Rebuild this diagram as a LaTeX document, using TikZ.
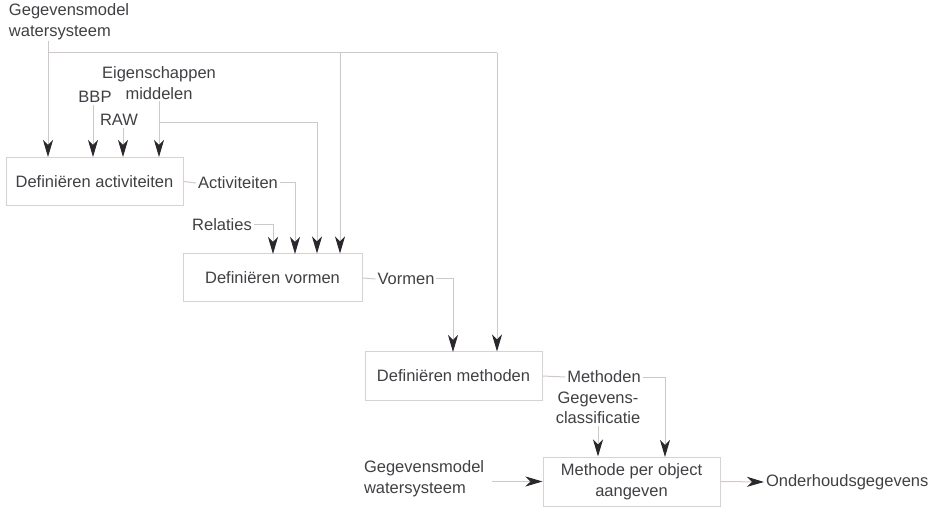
\documentclass[tikz,border=0pt]{standalone}
\usepackage{fontspec}
\setmainfont{Liberation Sans}
\usetikzlibrary{arrows.meta}
\definecolor{wire}{RGB}{212,198,198}
\definecolor{frame}{RGB}{220,208,208}
\definecolor{ink}{RGB}{66,63,68}
\definecolor{tipc}{RGB}{42,39,45}
\begin{document}
\begin{tikzpicture}[x=1pt,y=-1pt,
  every node/.style={font=\fontsize{16.5}{20.5}\selectfont, text=ink, inner sep=0pt},
  lbl/.style={outer sep=2pt},
  proc/.style={draw=frame, line width=1pt, minimum width=177pt, minimum height=48pt},
  wireline/.style={draw=wire, line width=1pt},
  feed/.style={wireline, -{Stealth[length=17pt,width=10pt,inset=5pt,color=tipc]}}]
\useasboundingbox (0,0) rectangle (934,510);

% process boxes
\node[proc] (act)  at (94.5,181.5) {Definiëren activiteiten};
\node[proc, minimum width=179pt] (vorm) at (272.5,278) {Definiëren vormen};
\node[proc] (meth) at (453.5,376) {Definiëren methoden};
\node[proc, minimum height=49pt, align=center] (obj) at (631.5,481.5) {Methode per object\\aangeven};

% data labels
\node[lbl, anchor=west, align=left] (gm1) at (7,21.5) {Gegevensmodel\\watersysteem};
\node[lbl, align=center] (eig) at (159,83) {Eigenschappen\\middelen};
\node[lbl] (bbp) at (95,97) {BBP};
\node[lbl] (raw) at (119,120) {RAW};
\node[lbl] (actout) at (238,183) {Activiteiten};
\node[lbl] (rel) at (222,225) {Relaties};
\node[lbl] (vormout) at (406,279) {Vormen};
\node[lbl] (methout) at (604,377) {Methoden};
\node[lbl, align=center] (gclass) at (598,408) {Gegevens-\\classificatie};
\node[lbl, anchor=west, align=left] (gm2) at (362,478.5) {Gegevensmodel\\watersysteem};
\node[lbl, anchor=west] (onder) at (764,482) {Onderhoudsgegevens};

% junctions and bends
\coordinate (bus)   at (48,53);
\coordinate (busv)  at (340,53);
\coordinate (busm)  at (497,53);
\coordinate (eigtap) at (159,123);
\coordinate (eigbend) at (317,123);
\coordinate (actdrop) at (295,254);
\coordinate (reldrop) at (273,254);
\coordinate (vormdrop) at (453,352);
\coordinate (methdrop) at (665,457);
\coordinate (gm2tail) at (492,481.5);

% water system data model feeds three steps
\draw[feed] (gm1.south -| bus) -- (bus |- act.north);
\draw[wireline] (bus) -- (busm);
\draw[feed] (busv) -- (busv |- vorm.north);
\draw[feed] (busm) -- (busm |- meth.north);

% inputs of the first step
\draw[feed] ([xshift=-2pt]bbp.south) -- ([xshift=-2pt]bbp.south |- act.north);
\draw[feed] ([xshift=4pt]raw.south) -- ([xshift=4pt]raw.south |- act.north);
\draw[feed] (eig.south) -- (eig.south |- act.north);
\draw[feed] (eigtap) -- (eigbend) -- (eigbend |- vorm.north);

% chain of steps
\draw[wireline] (act.east) -- (actout.west);
\draw[feed] (actout.east) -| (actdrop);
\draw[feed] (rel.east) -| (reldrop);
\draw[wireline] (vorm.east) -- (vormout.west);
\draw[feed] (vormout.east) -| (vormdrop);
\draw[wireline] (meth.east) -- (methout.west);
\draw[feed] (methout.east) -| (methdrop);
\draw[feed] (gclass.south) -- (gclass.south |- obj.north);
\draw[feed] (gm2tail) -- (obj.west);
\draw[feed] (obj.east) -- (onder.west);
\end{tikzpicture}
\end{document}
